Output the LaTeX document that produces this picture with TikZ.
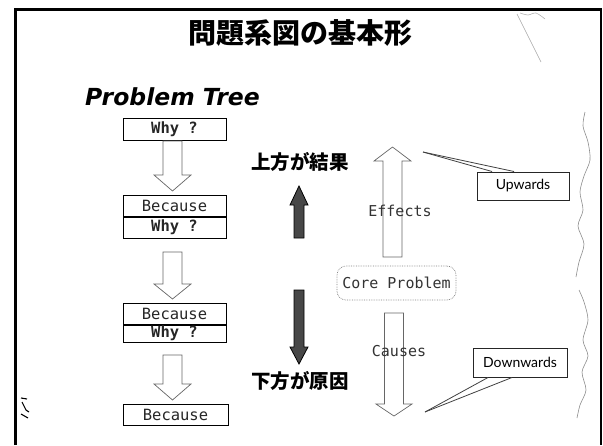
\documentclass[tikz,border=0pt]{standalone}
\usepackage{fontspec}
\newfontfamily\jpfont{Noto Sans CJK JP}
\newfontfamily\monof{DejaVu Sans Mono}
\newfontfamily\ptfont{DejaVu Sans}
\newfontfamily\callf{Lato}
\newcommand\fs[1]{\fontsize{#1}{#1}\selectfont}
% block arrows: #2 cx, #3 start, #4 head base, #5 tip, #6 half shaft, #7 half head
\newcommand\blockarrow[7][]{%
  \draw[#1] (#2-#6,#3) -- (#2+#6,#3) -- (#2+#6,#4) -- (#2+#7,#4) -- (#2,#5)
    -- (#2-#7,#4) -- (#2-#6,#4) -- cycle;}
\tikzset{
  hollow/.style={draw=black!60, line width=0.7pt, fill=white},
  darkarrow/.style={draw=black, line width=0.8pt, fill=black!72},
  qbox/.style={draw=black, line width=1pt, minimum width=103pt, inner sep=0pt,
    font=\monof\fs{15.5}, text=black!85},
  jptext/.style={font=\jpfont\bfseries\fs{19.5}, inner sep=0pt},
  flowtext/.style={font=\monof\fs{15}, text=black!80, inner sep=0pt},
  callbox/.style={draw=black!85, line width=1pt, inner sep=0pt, font=\callf\fs{14}},
  callline/.style={draw=black!75, line width=0.8pt},
  scan/.style={draw=black!45, line width=0.6pt},
}
\begin{document}
\begin{tikzpicture}[x=1pt,y=-1pt]
\useasboundingbox (0,0) rectangle (603,445);
% frame
\draw[line width=2.6pt] (15.5,445) -- (15.5,9.5) -- (601,9.5) -- (601,445);

% title
\node[font=\jpfont\bfseries\fs{28}, inner sep=0pt] (title) at (300,33) {問題系図の基本形};
\node[font=\ptfont\bfseries\itshape\fs{23.5}, inner sep=0pt, anchor=west] (pt) at (85,97) {Problem Tree};

% left column boxes
\node[qbox, minimum height=22pt] (w1) at (174.5,129) {\bfseries Why ?};
\node[qbox, minimum height=21pt] (b2) at (174.5,205.5) {Because};
\node[qbox, minimum height=21pt, anchor=north] (w2) at (b2.south) {\bfseries Why ?};
\node[qbox, minimum height=21pt] (b3) at (174.5,313.5) {Because};
\node[qbox, minimum height=17pt, anchor=north] (w3) at (b3.south) {\bfseries Why ?};
\node[qbox, minimum height=21pt, minimum width=105pt] (b4) at (175.5,414.5) {Because};

% left hollow arrows
\blockarrow[hollow]{172.5}{141}{175}{191}{9.5}{18.5}
\blockarrow[hollow]{172.5}{252}{284}{299}{9.5}{18.5}
\blockarrow[hollow]{172.5}{355}{384}{400}{9.5}{18.5}

% middle labels and dark arrows
\node[jptext] (up) at (300,162) {上方が結果};
\node[jptext] (down) at (300,381) {下方が原因};
\blockarrow[darkarrow]{299}{238}{205}{186}{5}{9}
\blockarrow[darkarrow]{299}{290}{347}{364}{5}{9}

% right: effects / core / causes
\blockarrow[hollow]{392.5}{257}{161}{147}{9.5}{18.5}
\blockarrow[hollow]{394}{313}{404}{416}{9.5}{18}
\node[flowtext] (eff) at (400,211) {Effects};
\node[flowtext] (cau) at (399,351) {Causes};
\node[draw=black!50, densely dotted, line width=0.7pt, rounded corners=9pt,
  minimum width=119pt, minimum height=34pt, flowtext] (core) at (396.5,283) {Core Problem};

% callouts
\node[callbox, minimum width=92pt, minimum height=28pt] (upw) at (523,186) {Upwards};
\node[callbox, minimum width=94pt, minimum height=29pt] (dnw) at (520,362.5) {Downwards};
\coordinate (uptip) at (423,152);
\coordinate (dntip) at (425,412);
\draw[callline] (uptip) -- ([xshift=-31pt]upw.north);
\draw[callline] (uptip) -- ([xshift=-9pt]upw.north);
\draw[callline] (dntip) -- ([xshift=-32pt]dnw.south);
\draw[callline] (dntip) -- ([xshift=-8pt]dnw.south);

% scan marks
\draw[scan] plot[smooth] coordinates {(585,112) (583,126) (588,142) (590,160) (584,176)
  (580,192) (583,210) (578,226) (584,244) (579,262) (576,277)};
\draw[scan] plot[smooth] coordinates {(579,290) (584,302) (588,320) (583,340) (588,356)
  (582,372) (586,390) (580,405) (577,418)};
\draw[scan, draw=black!35] (517,14) -- (541,62);
\draw[scan, draw=black!30] plot[smooth] coordinates {(520,13) (528,15) (536,13) (545,19)};
\draw[line width=1.1pt] (21,398) -- (27,399) (22,402) -- (26,410) -- (29,412) (21,414) -- (28,418);
\end{tikzpicture}
\end{document}
